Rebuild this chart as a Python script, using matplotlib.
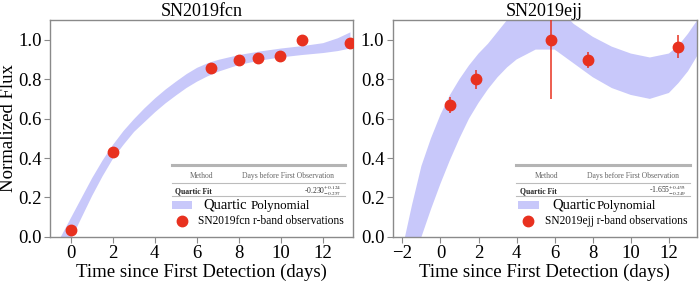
import matplotlib
matplotlib.use("Agg")
import matplotlib.pyplot as plt
from matplotlib.patches import Rectangle

plt.rcParams['font.family'] = ['Liberation Serif', 'DejaVu Serif']
plt.rcParams['mathtext.fontset'] = 'stix'

# SN2019fcn observations
fcn_t = [0.0, 2.0, 6.68, 8.02, 8.9, 9.97, 11.0, 13.3]
fcn_flux = [0.036, 0.433, 0.856, 0.898, 0.905, 0.919, 1.0, 0.983]

# quartic fit band
fcn_band_t = [-0.6, 0.0, 0.5, 1.0, 1.5, 2.0, 2.5, 3.0, 3.5, 4.0, 4.5, 5.0,
              5.5, 6.0, 6.5, 7.0, 8.0, 9.0, 10.0, 11.0, 12.0, 12.7, 13.3]
fcn_band_lo = [-0.13, -0.01, 0.10, 0.21, 0.31, 0.40, 0.47, 0.535, 0.585,
               0.635, 0.68, 0.72, 0.758, 0.79, 0.817, 0.84, 0.875, 0.897,
               0.913, 0.925, 0.935, 0.945, 0.958]
fcn_band_hi = [-0.02, 0.10, 0.20, 0.30, 0.39, 0.47, 0.54, 0.60, 0.655,
               0.705, 0.75, 0.79, 0.828, 0.86, 0.883, 0.90, 0.925, 0.943,
               0.958, 0.97, 0.985, 1.01, 1.04]

# SN2019ejj observations
ejj_t = [0.52, 1.85, 5.78, 7.74, 12.47]
ejj_flux = [0.669, 0.80, 1.0, 0.897, 0.964]
ejj_err = [0.042, 0.048, 0.30, 0.042, 0.058]

ejj_band_t = [-2.0, -1.5, -1.0, -0.5, 0.0, 0.5, 1.0, 1.5, 2.0, 2.5, 3.0, 3.5,
              4.0, 5.0, 6.0, 7.0, 8.0, 9.0, 10.0, 11.0, 12.0, 12.5, 13.0, 13.5]
ejj_band_lo = [-0.55, -0.28, 0.0, 0.14, 0.27, 0.39, 0.50, 0.60, 0.68, 0.75,
               0.81, 0.86, 0.90, 0.95, 0.95, 0.88, 0.81, 0.755, 0.72, 0.70,
               0.73, 0.78, 0.84, 0.92]
ejj_band_hi = [-0.06, 0.16, 0.36, 0.50, 0.62, 0.72, 0.80, 0.87, 0.93, 0.98,
               1.04, 1.10, 1.15, 1.20, 1.18, 1.08, 1.015, 0.965, 0.93, 0.91,
               0.93, 0.97, 1.03, 1.10]

band_color = '#c8c8fa'
dot_color = '#e8311f'
spine_color = '#8a8a8a'


def style_axes(ax):
    for s in ax.spines.values():
        s.set_color(spine_color)
        s.set_linewidth(1.0)
    ax.tick_params(direction='out', length=4, width=0.8, color=spine_color,
                   labelsize=13.5, pad=2)
    ax.set_ylim(0, 1.10)
    ax.set_yticks([0.0, 0.2, 0.4, 0.6, 0.8, 1.0])
    ax.set_xlabel('Time since First Detection (days)', fontsize=13.5,
                  labelpad=1)


def fit_table(ax, x0, x1, value, name, lay):
    tr = ax.transAxes
    ax.plot([x0, x1], [0.330, 0.330], color='#b4b4b4', lw=2.2, transform=tr)
    ax.plot([x0, x1], [0.247, 0.247], color='#bcbcbc', lw=0.8, transform=tr)
    ax.plot([x0, x1], [0.187, 0.187], color='#bcbcbc', lw=0.8, transform=tr)
    ax.text(lay['method'], 0.282, 'Method', fontsize=5.5, color='#666666',
            ha='center', va='center', transform=tr)
    ax.text(lay['days'], 0.282, 'Days before First Observation', fontsize=5.5,
            color='#666666', ha='center', va='center', transform=tr)
    ax.text(x0 + 0.012, 0.212, 'Quartic Fit', fontsize=5.5, fontweight='bold',
            color='#222222', ha='left', va='center', transform=tr)
    ax.text(x1 - 0.012, 0.212, value, fontsize=5.5, color='#333333',
            ha='right', va='center', transform=tr)
    # legend entries
    ax.add_patch(Rectangle((lay['patch'], 0.130), 0.068, 0.036, transform=tr,
                           facecolor=band_color, edgecolor='none'))
    ax.text(lay['quartic'], 0.147, 'Quartic', fontsize=10.5, ha='left',
            va='center', transform=tr)
    ax.text(lay['poly'], 0.143, 'Polynomial', fontsize=9.3, ha='left',
            va='center', transform=tr)
    ax.plot([lay['dot']], [0.074], 'o', color=dot_color, ms=7.5, transform=tr)
    ax.text(lay['label'], 0.074, name + ' r-band observations', fontsize=8.3,
            ha='left', va='center', transform=tr)


fig = plt.figure(figsize=(7, 2.9), dpi=100)
ax1 = fig.add_axes([0.0714, 0.183, 0.433, 0.748])
ax2 = fig.add_axes([0.561, 0.183, 0.434, 0.748])

# left panel
ax1.fill_between(fcn_band_t, fcn_band_lo, fcn_band_hi, color=band_color,
                 lw=0)
ax1.plot(fcn_t, fcn_flux, 'o', color=dot_color, ms=7.5, zorder=3)
ax1.set_xlim(-0.98, 13.45)
ax1.set_xticks([0, 2, 4, 6, 8, 10, 12])
ax1.set_title('SN2019fcn', fontsize=13, pad=2)
ax1.set_ylabel('Normalized Flux', fontsize=13.5)
ax1.yaxis.set_label_coords(-0.108, 0.5)
style_axes(ax1)
fit_table(ax1, 0.402, 0.974,
          r'-0.230$^{+0.124}_{-0.257}$', 'SN2019fcn',
          {'method': 0.50, 'days': 0.786, 'patch': 0.402, 'quartic': 0.505,
           'poly': 0.661, 'dot': 0.435, 'label': 0.49})

# right panel
ax2.fill_between(ejj_band_t, ejj_band_lo, ejj_band_hi, color=band_color,
                 lw=0)
ax2.errorbar(ejj_t, ejj_flux, yerr=ejj_err, fmt='o', color=dot_color, ms=7.5,
             elinewidth=1.1, capsize=0, zorder=3)
ax2.set_xlim(-2.51, 13.45)
ax2.set_xticks([-2, 0, 2, 4, 6, 8, 10, 12])
ax2.set_title('SN2019ejj', fontsize=13, pad=2)
style_axes(ax2)
fit_table(ax2, 0.407, 0.977,
          r'-1.655$^{+0.493}_{-0.249}$', 'SN2019ejj',
          {'method': 0.505, 'days': 0.79, 'patch': 0.412, 'quartic': 0.525,
           'poly': 0.672, 'dot': 0.447, 'label': 0.50})

fig.savefig('out.png', dpi=100)
